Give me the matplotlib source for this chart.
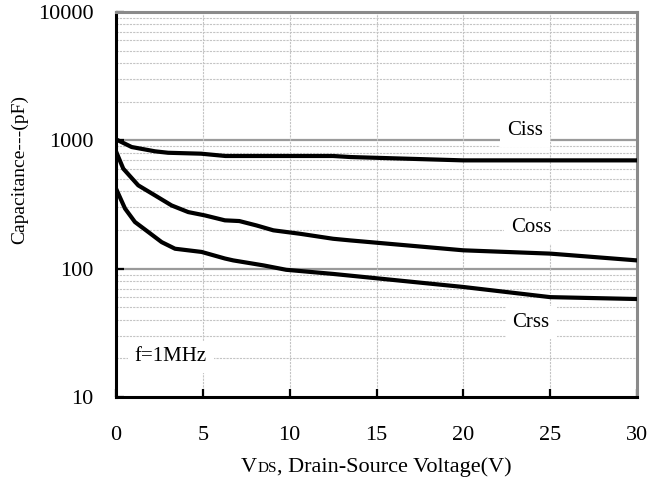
import numpy as np
from matplotlib import pyplot as plt
from matplotlib.ticker import FixedLocator, NullFormatter

plt.rcParams['font.family'] = ['Liberation Serif', 'DejaVu Serif']

# values (V, pF)
ciss_v = [0, 0.9, 2.25, 3.0, 4.9, 6.3, 12.5, 13.5, 20, 25, 30]
ciss_c = [1018, 887, 821, 800, 787, 755, 755, 741, 698, 698, 698]

coss_v = [0, 0.42, 1.28, 2.25, 3.2, 4.16, 5.12, 6.27, 7.1, 8.1, 9.06, 10.6, 12.5, 13.5, 20, 25, 30]
coss_c = [821, 601, 446, 372, 311, 276, 260, 238, 235, 217, 199, 187, 171, 166, 139, 131, 116]

crss_v = [0, 0.52, 1.09, 1.86, 2.63, 3.4, 4.93, 6.27, 6.75, 8.5, 9.8, 12.5, 20, 25, 30]
crss_c = [421, 294, 231, 193, 161, 143, 135, 120, 116, 106, 98, 91, 72, 60, 58]

x_ticks = [0, 5, 10, 15, 20, 25, 30]
y_ticks = [10, 100, 1000, 10000]

# curve names and where they sit (V, pF)
labels = ['Ciss', 'Coss', 'Crss', 'f=1MHz']
label_v = [23.55, 23.9, 23.9, 3.15]
label_c = [1197, 210, 38, 20.5]

fig = plt.figure(figsize=(6.51, 4.79), dpi=100)
ax = fig.add_axes([116 / 651, 1 - 397 / 479, (637 - 116) / 651, (397 - 12) / 479])

ax.set_yscale('log')
ax.set_xlim(0, 30)
ax.set_ylim(10, 10000)

# grid: minor dotted, majors solid grey
minors = [m * 10 ** d for d in range(1, 4) for m in range(2, 10)]
for yv in minors:
    ax.axhline(yv, color='#c4c4c4', lw=0.8, ls=(0, (2, 1)), zorder=1)
for yv in [100, 1000]:
    ax.axhline(yv, color='#9a9a9a', lw=1.6, zorder=1)
for xv in x_ticks[1:-1]:
    ax.axvline(xv, color='#c4c4c4', lw=0.8, ls=(0, (2, 1)), zorder=1)

ax.plot(ciss_v, ciss_c, color='black', lw=3, zorder=3)
ax.plot(coss_v, coss_c, color='black', lw=3, zorder=3)
ax.plot(crss_v, crss_c, color='black', lw=3, zorder=3)

box = dict(facecolor='white', edgecolor='none', pad=5)
for name, v, c in zip(labels, label_v, label_c):
    ax.text(v, c, name, fontsize=15, ha='center', va='center', bbox=box, zorder=4)

for side in ['left', 'bottom']:
    ax.spines[side].set_color('black')
    ax.spines[side].set_linewidth(2.2)
for side in ['top', 'right']:
    ax.spines[side].set_color('#8a8a8a')
    ax.spines[side].set_linewidth(2.2)

ax.xaxis.set_major_locator(FixedLocator(x_ticks))
ax.set_xticklabels([str(v) for v in x_ticks])
ax.yaxis.set_major_locator(FixedLocator(y_ticks))
ax.set_yticklabels([str(v) for v in y_ticks])
ax.yaxis.set_minor_formatter(NullFormatter())
ax.tick_params(axis='y', which='minor', length=0)
ax.tick_params(axis='both', which='major', direction='in', length=6, width=1.6,
               labelsize=16, colors='black')
ax.tick_params(axis='x', pad=21)
ax.tick_params(axis='y', pad=16)

ax.set_ylabel('Capacitance---(pF)', fontsize=14)
ax.yaxis.set_label_coords(-0.169, 0.59)

# x label with small "DS" on the same baseline
base = 1 - 472 / 479
t1 = fig.text(241 / 651, base, 'V', fontsize=16, ha='left', va='baseline')
t2 = fig.text(0, base, 'DS', fontsize=11, ha='left', va='baseline')
t3 = fig.text(0, base, ', Drain-Source Voltage(V)', fontsize=16, ha='left', va='baseline')
fig.canvas.draw()
r = fig.canvas.get_renderer()
x1 = t1.get_window_extent(r).x1
t2.set_x(x1 / fig.bbox.width)
x2 = t2.get_window_extent(r).x1
t3.set_x(x2 / fig.bbox.width)

fig.savefig('out.png', dpi=100)
